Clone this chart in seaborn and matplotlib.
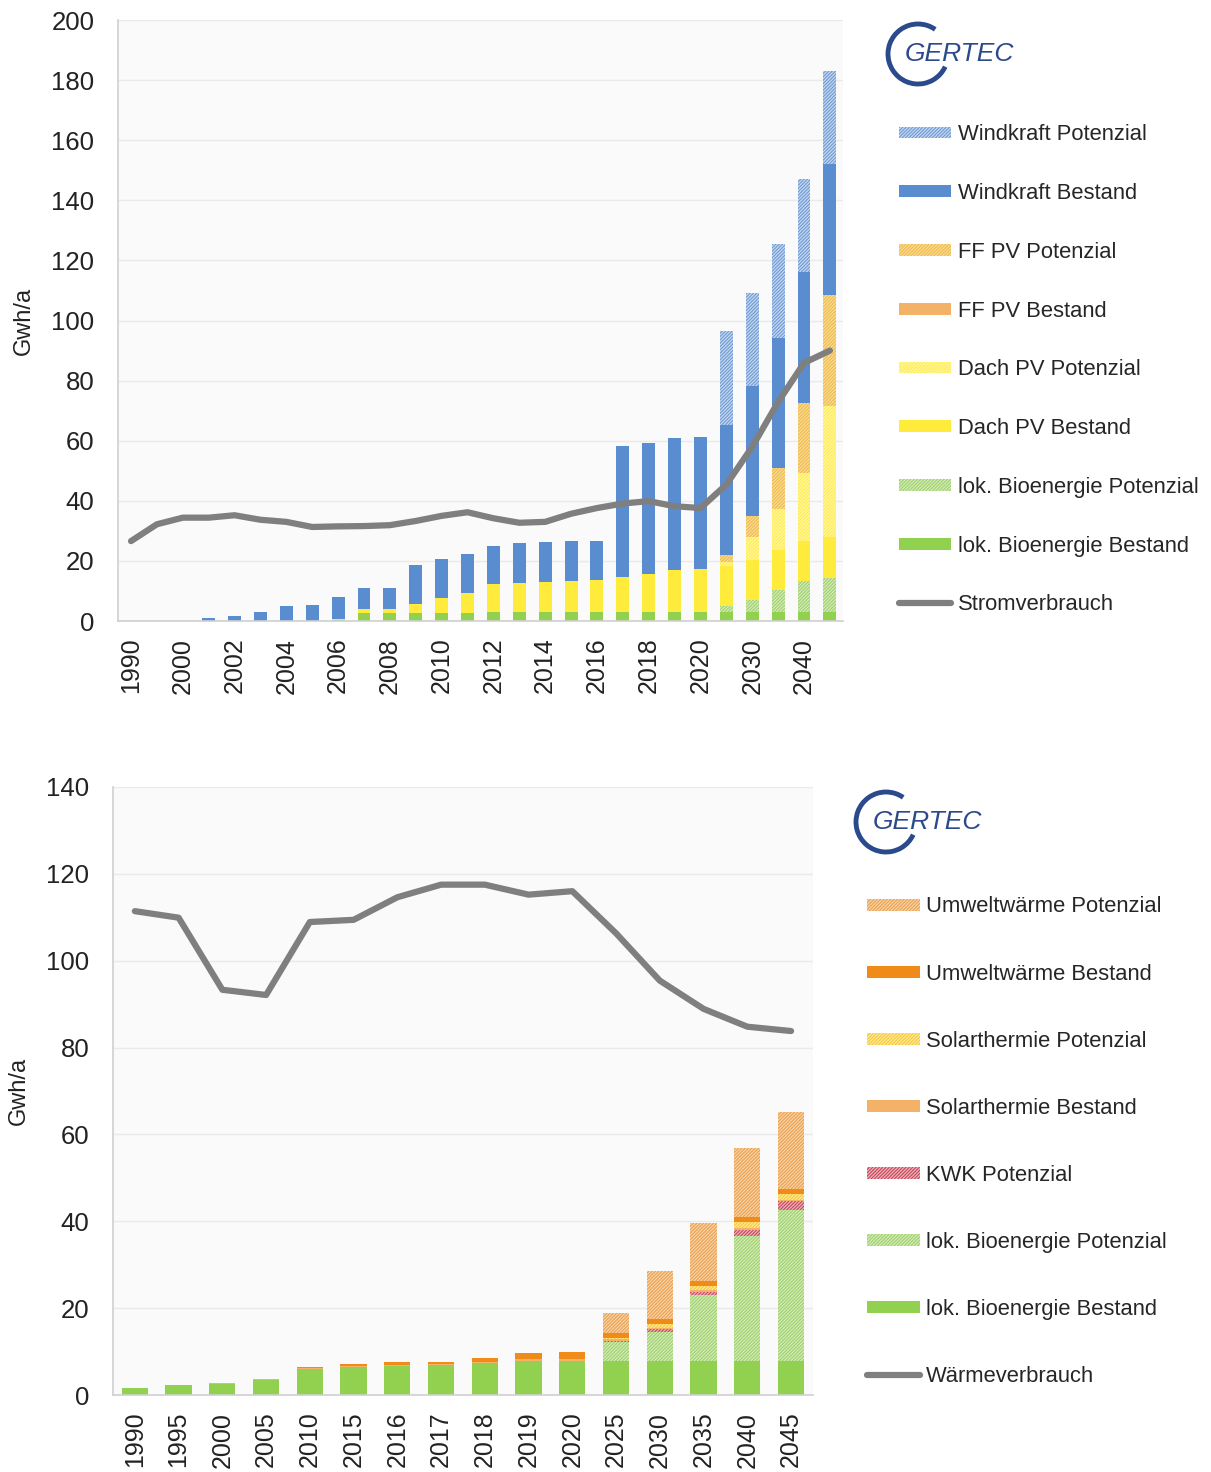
import numpy as np
import pandas as pd
import seaborn as sns
import matplotlib.pyplot as plt
from matplotlib.patches import Patch, Arc
from matplotlib.lines import Line2D

# ---------------- Strom (oben) ----------------
strom_jahre = ['1990', '1995', '2000', '2001', '2002', '2003', '2004', '2005', '2006', '2007',
               '2008', '2009', '2010', '2011', '2012', '2013', '2014', '2015', '2016', '2017',
               '2018', '2019', '2020', '2025', '2030', '2035', '2040', '2045']
bio_bestand_s = [0, 0, 0, 0, 0, 0, 0, 0, 0.3, 2.7, 2.7, 2.7, 2.7, 2.8, 2.9, 2.9, 3.0, 3.0, 3.0,
                 3.1, 3.1, 3.1, 3.1, 3.1, 3.1, 3.1, 3.1, 3.1]
bio_potenzial_s = [0] * 23 + [1.8, 3.9, 7.3, 10.3, 11.3]
dach_bestand = [0, 0, 0, 0, 0, 0, 0, 0, 0.3, 1.2, 1.2, 2.9, 4.9, 6.4, 9.3, 9.9, 10.1, 10.2, 10.5,
                11.5, 12.4, 13.9, 14.2, 13.3, 13.3, 13.3, 13.3, 13.5]
dach_potenzial = [0] * 23 + [1.5, 7.6, 13.5, 22.4, 43.6]
ff_bestand = [0] * 28
ff_potenzial = [0] * 23 + [2.4, 6.9, 13.8, 23.6, 37.0]
wind_bestand = [0, 0, 0, 0.9, 1.8, 3.1, 4.9, 5.2, 7.4, 7.1, 7.1, 13.1, 13.2, 13.2, 12.9, 13.2,
                13.3, 13.3, 13.1, 43.6, 43.8, 43.8, 43.8, 43.3, 43.5, 43.2, 43.4, 43.5]
wind_potenzial = [0] * 23 + [31.0, 31.0, 31.4, 31.1, 31.0]
stromverbrauch = [26.6, 32.2, 34.4, 34.4, 35.2, 33.7, 33.0, 31.3, 31.5, 31.6, 31.9, 33.3, 35.0,
                  36.2, 34.2, 32.7, 33.0, 35.7, 37.6, 39.1, 39.9, 38.2, 37.6, 45.4, 58.0, 72.9,
                  85.9, 90.0]

# ---------------- Wärme (unten) ----------------
waerme_jahre = ['1990', '1995', '2000', '2005', '2010', '2015', '2016', '2017', '2018', '2019',
                '2020', '2025', '2030', '2035', '2040', '2045']
bio_bestand_w = [1.7, 2.2, 2.6, 3.4, 6.1, 6.4, 6.7, 6.8, 7.3, 7.9, 7.9, 7.9, 7.9, 7.9, 7.9, 7.9]
bio_potenzial_w = [0] * 11 + [4.4, 6.7, 15.2, 28.8, 34.6]
kwk_potenzial = [0] * 11 + [0.1, 0.5, 0.7, 1.4, 2.1]
solar_bestand = [0, 0.1, 0.1, 0.2, 0.2, 0.3, 0.3, 0.3, 0.3, 0.4, 0.4, 0.4, 0.4, 0.4, 0.4, 0.4]
solar_potenzial = [0] * 11 + [0.4, 0.8, 0.9, 1.3, 1.2]
umwelt_bestand = [0, 0, 0.1, 0.2, 0.2, 0.4, 0.5, 0.6, 1.0, 1.3, 1.5, 1.1, 1.1, 1.1, 1.2, 1.2]
umwelt_potenzial = [0] * 11 + [4.5, 11.2, 13.3, 15.9, 17.8]
waermeverbrauch = [111.4, 109.9, 93.3, 92.1, 108.9, 109.4, 114.6, 117.5, 117.5, 115.2, 116.0,
                   106.3, 95.4, 88.9, 84.8, 83.8]

sns.set_style('white')
plt.rcParams['font.family'] = ['Liberation Sans', 'DejaVu Sans']
plt.rcParams['hatch.linewidth'] = 0.8

HATCH = '//////////'
GREY_LINE = '#7F7F7F'
BLUE_LOGO = '#2B4A8C'
TXT = '#222222'

fig = plt.figure(figsize=(12.11, 14.72), dpi=100)
ax1 = fig.add_axes([0.0975, 0.5781, 0.5985, 0.4083])
ax2 = fig.add_axes([0.0933, 0.0523, 0.578, 0.4131])


def stacked_bars(ax, jahre, layers, width):
    # layers from bottom to top: (label, values, facecolor, hatchcolor or None)
    cum = np.cumsum([l[1] for l in layers], axis=0)
    for i in range(len(layers) - 1, -1, -1):
        label, vals, face, hcol = layers[i]
        df = pd.DataFrame({'Jahr': jahre, 'Wert': cum[i]})
        sns.barplot(data=df, x='Jahr', y='Wert', order=jahre, color=face, saturation=1,
                    width=width, errorbar=None, ax=ax)
        for bar in ax.containers[-1]:
            bar.set_linewidth(0)
            if hcol is not None:
                bar.set_hatch(HATCH)
                bar.set_edgecolor(hcol)


def style_axis(ax, jahre, ymax, every):
    ax.set_facecolor('#FAFAFA')
    ax.set_ylim(0, ymax)
    ax.set_xlim(-0.5, len(jahre) - 0.5)
    ax.set_yticks(np.arange(0, ymax + 1, 20))
    ax.yaxis.grid(True, color='#EAEAEA', lw=1)
    ax.set_axisbelow(True)
    for s in ['top', 'right']:
        ax.spines[s].set_visible(False)
    for s in ['left', 'bottom']:
        ax.spines[s].set_color('#D0D0D0')
        ax.spines[s].set_linewidth(1.2)
    ax.set_xticks(range(len(jahre)))
    ax.set_xticklabels([j if i % every == 0 else '' for i, j in enumerate(jahre)],
                       rotation=90, fontsize=18, color=TXT)
    ax.set_xticks(np.arange(-0.5, len(jahre)), minor=True)
    ax.tick_params(axis='x', which='major', length=0, pad=12)
    ax.tick_params(axis='x', which='minor', length=7, color='#C8C8C8', width=1.2)
    ax.tick_params(axis='y', length=6, color='#D0D0D0', labelsize=18.5, labelcolor=TXT, pad=11)
    ax.set_xlabel('')
    ax.set_ylabel('Gwh/a', fontsize=17, color=TXT, labelpad=12)


def logo(cx, cy, tx):
    fig.add_artist(Arc((cx / 100, (1472 - cy) / 100), 0.6, 0.6, theta1=55, theta2=335,
                       lw=3.5, color=BLUE_LOGO, transform=fig.dpi_scale_trans))
    fig.text(tx / 1211, 1 - cy / 1472, 'GERTEC', fontsize=19, style='italic',
             color=BLUE_LOGO, va='center', ha='left')


# ---------- top chart ----------
strom_layers = [
    ('lok. Bioenergie Bestand', bio_bestand_s, '#92D050', None),
    ('lok. Bioenergie Potenzial', bio_potenzial_s, '#D3EBB8', '#9ED06A'),
    ('Dach PV Bestand', dach_bestand, '#FFEB3C', None),
    ('Dach PV Potenzial', dach_potenzial, '#FFF7A0', '#FFEC50'),
    ('FF PV Bestand', ff_bestand, '#F4B168', None),
    ('FF PV Potenzial', ff_potenzial, '#F9DC98', '#F0BA45'),
    ('Windkraft Bestand', wind_bestand, '#5A8DD0', None),
    ('Windkraft Potenzial', wind_potenzial, '#C3D7F0', '#6F9AD4'),
]
stacked_bars(ax1, strom_jahre, strom_layers, 0.5)
sns.lineplot(x=strom_jahre, y=stromverbrauch, color=GREY_LINE, lw=4.5, sort=False, ax=ax1,
             zorder=5)
style_axis(ax1, strom_jahre, 200, 2)

# ---------- bottom chart ----------
waerme_layers = [
    ('lok. Bioenergie Bestand', bio_bestand_w, '#92D050', None),
    ('lok. Bioenergie Potenzial', bio_potenzial_w, '#D3EBB8', '#9ED06A'),
    ('KWK Potenzial', kwk_potenzial, '#EDB2BA', '#C8465A'),
    ('Solarthermie Bestand', solar_bestand, '#F4B168', None),
    ('Solarthermie Potenzial', solar_potenzial, '#FFEA9C', '#F6C832'),
    ('Umweltwärme Bestand', umwelt_bestand, '#F08A18', None),
    ('Umweltwärme Potenzial', umwelt_potenzial, '#F8D3A4', '#EAA050'),
]
stacked_bars(ax2, waerme_jahre, waerme_layers, 0.6)
sns.lineplot(x=waerme_jahre, y=waermeverbrauch, color=GREY_LINE, lw=4.5, sort=False, ax=ax2,
             zorder=5)
style_axis(ax2, waerme_jahre, 140, 1)


def legend_handles(layers, line_label):
    hs, ls = [], []
    for label, vals, face, hcol in reversed(layers):
        if hcol is None:
            hs.append(Patch(facecolor=face, lw=0))
        else:
            hs.append(Patch(facecolor=face, edgecolor=hcol, hatch=HATCH, lw=0))
        ls.append(label)
    hs.append(Line2D([0], [0], color=GREY_LINE, lw=4.5))
    ls.append(line_label)
    return hs, ls


h, l = legend_handles(strom_layers, 'Stromverbrauch')
fig.legend(h, l, loc='upper left', bbox_to_anchor=(0.742, 0.9155), frameon=False,
           fontsize=15.8, labelspacing=1.72, handlelength=2.4, handleheight=0.45,
           handletextpad=0.3, borderpad=0, borderaxespad=0)

h, l = legend_handles(waerme_layers, 'Wärmeverbrauch')
fig.legend(h, l, loc='upper left', bbox_to_anchor=(0.716, 0.391), frameon=False,
           fontsize=15.8, labelspacing=2.1, handlelength=2.4, handleheight=0.45,
           handletextpad=0.3, borderpad=0, borderaxespad=0)

logo(918, 54, 905)
logo(886, 822, 873)

fig.savefig('out.png', dpi=100)
